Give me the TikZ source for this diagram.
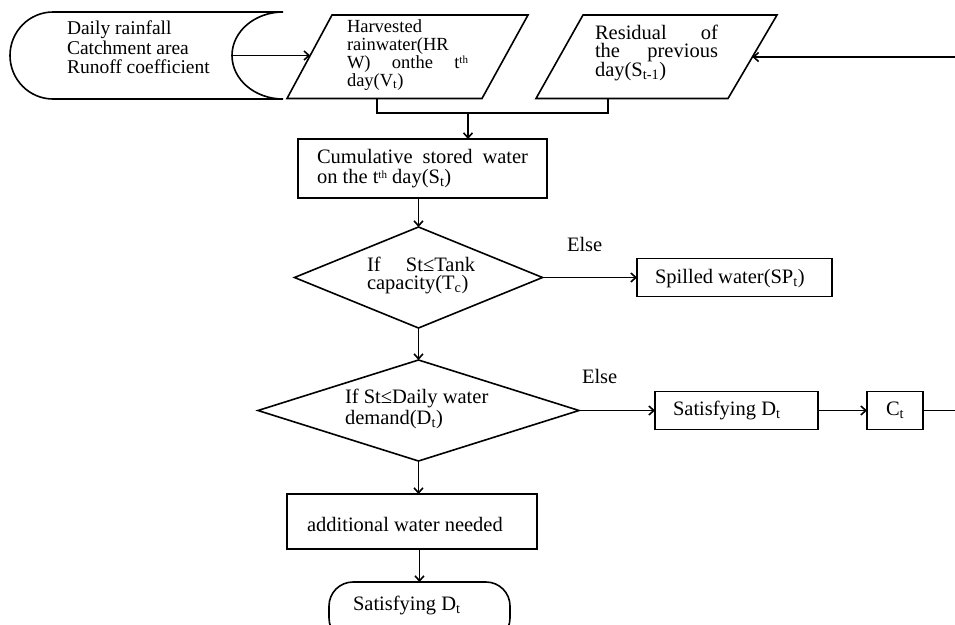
\documentclass[tikz,border=0pt]{standalone}
\usepackage{fontspec}
\setmainfont{Liberation Serif}
\usetikzlibrary{shapes.geometric,arrows.meta}
\newcommand{\thsup}{\raisebox{5pt}{\fontsize{11}{11}\selectfont th}}
\begin{document}
\begin{tikzpicture}[x=1pt,y=-1pt,
  line width=1.6pt,
  every node/.style={inner sep=0pt,outer sep=0pt},
  txt/.style={anchor=base west,font=\fontsize{20.5}{20}\selectfont},
  txtb/.style={anchor=base west,font=\fontsize{19.5}{19}\selectfont},
  txtc/.style={anchor=base west,font=\fontsize{18.5}{18}\selectfont},
  box/.style={draw,rectangle,line width=1.6pt},
  dia/.style={draw,diamond,line width=1.6pt},
  arr/.style={-{Straight Barb[length=5pt,width=9pt]}},
]
\fill[white] (0,0) rectangle (955,624);
\useasboundingbox (0,0) rectangle (955,624);

% stored data shape
\draw (53,12) -- (283,12) .. controls (254.8,12) and (232,31.5) .. (232,55.5)
  .. controls (232,79.5) and (254.8,99) .. (283,99) -- (53,99)
  .. controls (29.25,99) and (10,79.5) .. (10,55.5)
  .. controls (10,31.5) and (29.25,12) .. (53,12);
\coordinate (storout) at (232,55.5);

% parallelograms
\draw (332,15) -- (528,15) -- (482,98.5) -- (287,98.5) -- cycle;
\draw (583,15) -- (777,15) -- (728,98.5) -- (536,98.5) -- cycle;
\coordinate (p1in) at (310.2,55.5);
\coordinate (p2in) at (752.4,57);
\coordinate (rin) at (955,57);
\coordinate (p1bot) at (377,98.5);
\coordinate (p2bot) at (608,98.5);
\coordinate (jn) at (468,113);

% boxes and decisions
\node[box, minimum width=249pt, minimum height=59pt] (cum) at (422.5,168.5) {};
\node[dia, minimum width=248pt, minimum height=101pt] (d1) at (418.5,277.5) {};
\node[box, minimum width=195pt, minimum height=38pt] (spill) at (734.5,277.5) {};
\node[dia, minimum width=321pt, minimum height=101pt] (d2) at (418.5,410.5) {};
\node[box, minimum width=163pt, minimum height=38pt] (sat) at (736.5,410.5) {};
\node[box, minimum width=56pt, minimum height=38pt] (ct) at (895,410.5) {};
\node[box, minimum width=250pt, minimum height=55pt] (add) at (412,521.5) {};
\node[draw, rectangle, rounded corners=24pt, minimum width=181pt, minimum height=60pt] (term) at (419.5,612) {};
\coordinate (ctout) at (955,410.5);

% texts
\node[txtb] (s1) at (67,34.5) {Daily rainfall};
\node[txtb] (s2) at (67,54) {Catchment area};
\node[txtb] (s3) at (67,73.5) {Runoff coefficient};
\node[txtc] (h1) at (347,32) {Harvested};
\node[txtc] (h2) at (347,50) {rainwater(HR};
\node[txtc] (h3) at (347,68) {\hbox to 121pt{W)\hfill onthe\hfill t\thsup}};
\node[txtc] (h4) at (347,86) {day(V\textsubscript{t})};
\node[txt] (r1) at (595,39) {\hbox to 123pt{Residual\hfill of}};
\node[txt] (r2) at (595,57.5) {\hbox to 123pt{the\hfill previous}};
\node[txt] (r3) at (595,76) {day(S\textsubscript{t-1})};
\node[txt] (c1) at (317,163) {\hbox to 211pt{Cumulative\hfill stored\hfill water}};
\node[txt] (c2) at (317,183) {on the t\thsup\ day(S\textsubscript{t})};
\node[txt] (q1) at (367,271) {\hbox to 108pt{If\hfill St≤Tank}};
\node[txt] (q2) at (367,289.5) {capacity(T\textsubscript{c})};
\node[txt] (e1) at (567,251.7) {Else};
\node[txt] (sp) at (655,283.3) {Spilled water(SP\textsubscript{t})};
\node[txt] (k1) at (345,403.3) {If St≤Daily water};
\node[txt] (k2) at (345,424) {demand(D\textsubscript{t})};
\node[txt] (e2) at (582,383.3) {Else};
\node[txt] (sd) at (673,415) {Satisfying D\textsubscript{t}};
\node[txt] (cc) at (886,415) {C\textsubscript{t}};
\node[txt] (ad) at (307,531) {additional water needed};
\node[txt] (ts) at (353,610.7) {Satisfying D\textsubscript{t}};

% connectors
\draw[arr] (storout) -- (p1in);
\draw[arr] (rin) -- (p2in);
\draw (p1bot) |- (jn) -| (p2bot);
\draw[arr] (jn) -- (jn |- cum.north);
\draw[arr] (d1.north |- cum.south) -- (d1.north);
\draw[arr] (d1.east) -- (spill.west);
\draw[arr] (d1.south) -- (d2.north);
\draw[arr] (d2.east) -- (sat.west);
\draw[arr] (sat.east) -- (ct.west);
\draw (ct.east) -- (ctout);
\draw[arr] (d2.south) -- (d2.south |- add.north);
\draw[arr] (term.north |- add.south) -- (term.north);
\end{tikzpicture}
\end{document}
